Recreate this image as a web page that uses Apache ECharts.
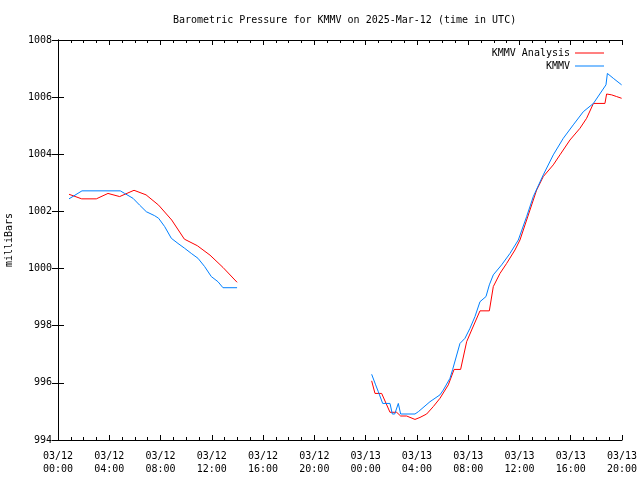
<!DOCTYPE html>
<html>
<head>
<meta charset="utf-8">
<script src="https://cdn.jsdelivr.net/npm/echarts@6/dist/echarts.min.js"></script>
<style>html,body{margin:0;padding:0;background:#fff}#c{width:640px;height:480px}</style>
</head>
<body>
<div id="c"></div>
<script>
var titleText = 'Barometric Pressure for KMMV on 2025-Mar-12 (time in UTC)';
var yAxisName = 'milliBars';
var seriesNames = ['KMMV Analysis', 'KMMV'];
var xTickDates = ['03/12','03/12','03/12','03/12','03/12','03/12','03/13','03/13','03/13','03/13','03/13','03/13'];
var xTickTimes = ['00:00','04:00','08:00','12:00','16:00','20:00','00:00','04:00','08:00','12:00','16:00','20:00'];

// hours since 03/12 00:00 UTC; null = gap in data
var analysisHours = [0.86,1.85,2.99,3.90,4.81,5.93,6.87,7.85,8.87,9.86,10.87,11.86,12.87,13.97,
  19,
  24.47,24.73,25.25,25.90,26.42,26.73,27.20,27.85,28.24,28.76,29.28,29.80,30.45,30.90,31.41,31.88,32.27,32.92,33.65,33.96,34.48,35.00,35.65,36.04,36.56,37.34,37.86,38.64,39.16,39.94,40.72,41.24,41.77,42.67,42.80,43.19,43.58,43.97];
var analysisValues = [1002.60,1002.44,1002.44,1002.63,1002.52,1002.74,1002.58,1002.22,1001.70,1001.03,1000.80,1000.47,1000.04,999.52,
  null,
  996.07,995.63,995.63,994.97,994.97,994.84,994.84,994.72,994.79,994.91,995.17,995.46,995.93,996.47,996.47,997.44,997.85,998.52,998.52,999.37,999.83,1000.18,1000.65,1001.00,1001.70,1002.75,1003.22,1003.63,1003.98,1004.50,1004.91,1005.26,1005.78,1005.78,1006.11,1006.08,1006.02,1005.96];

var kmmvHours = [0.86,1.87,4.86,5.20,5.85,6.37,6.89,7.54,7.85,8.32,8.84,9.36,9.88,10.40,10.92,11.44,11.96,12.48,12.87,13.97,
  19,
  24.47,24.78,24.86,24.99,25.33,25.90,26.08,26.27,26.55,26.73,27.85,28.11,29.02,29.80,30.06,30.58,30.79,31.36,31.75,32.14,32.53,32.92,33.39,33.65,33.96,34.61,35.26,35.91,36.56,37.08,37.86,38.64,39.42,40.20,40.98,41.77,42.75,42.86,43.32,43.97];
var kmmvValues = [1002.44,1002.72,1002.72,1002.63,1002.46,1002.22,1001.99,1001.85,1001.76,1001.47,1001.06,1000.88,1000.71,1000.53,1000.36,1000.07,999.72,999.54,999.33,999.33,
  null,
  996.30,995.93,995.87,995.69,995.28,995.28,994.91,994.91,995.28,994.91,994.91,994.99,995.34,995.58,995.75,996.16,996.47,997.38,997.56,997.91,998.32,998.84,999.02,999.43,999.78,1000.13,1000.53,1001.00,1001.82,1002.52,1003.28,1003.98,1004.56,1005.03,1005.49,1005.78,1006.43,1006.83,1006.66,1006.43];

function pairs(xs, ys) {
  return xs.map(function (x, i) { return [x, ys[i] === null ? '-' : ys[i]]; });
}

var FONT = 'DejaVu Sans Mono';
var chart = echarts.init(document.getElementById('c'), null, {renderer: 'canvas'});

var axisLineStyle = {show: true, lineStyle: {color: '#000', width: 1}};
function xAx(pos, labels) {
  return {
    type: 'value', position: pos, min: 0, max: 44, interval: 4,
    axisLine: axisLineStyle,
    axisTick: {show: true, inside: true, length: 5, lineStyle: {color: '#000'}},
    minorTick: {show: true, splitNumber: 4, length: 3, lineStyle: {color: '#000'}},
    splitLine: {show: false},
    axisLabel: labels ? {
      show: true, color: '#000', fontFamily: FONT, fontSize: 10, lineHeight: 13, margin: 10,
      hideOverlap: false, showMinLabel: true, showMaxLabel: true,
      formatter: function (v) { var i = Math.round(v / 4); return xTickDates[i] + '\n' + xTickTimes[i]; }
    } : {show: false}
  };
}
function yAx(pos, labels) {
  return {
    type: 'value', position: pos, min: 994, max: 1008, interval: 2,
    name: labels ? yAxisName : '', nameLocation: 'middle', nameGap: 44, nameRotate: 90,
    nameTextStyle: {color: '#000', fontFamily: FONT, fontSize: 10},
    axisLine: axisLineStyle,
    axisTick: {show: true, inside: true, length: 6, lineStyle: {color: '#000'}},
    splitLine: {show: false},
    axisLabel: labels ? {show: true, color: '#000', fontFamily: FONT, fontSize: 10, margin: 6,
      formatter: function (v) { return String(v); }} : {show: false}
  };
}

chart.setOption({
  animation: false,
  backgroundColor: '#fff',
  title: {
    text: titleText, left: 168, top: 10,
    textStyle: {color: '#000', fontFamily: FONT, fontSize: 10, fontWeight: 'normal'}
  },
  legend: [
    {data: [seriesNames[0]], right: 31, top: 43, icon: 'rect', itemWidth: 29, itemHeight: 1, align: 'right',
     textStyle: {color: '#000', fontFamily: FONT, fontSize: 10}, selectedMode: false},
    {data: [seriesNames[1]], right: 31, top: 56, icon: 'rect', itemWidth: 29, itemHeight: 1, align: 'right',
     textStyle: {color: '#000', fontFamily: FONT, fontSize: 10}, selectedMode: false}
  ],
  grid: {left: 58, right: 18, top: 40, bottom: 40, containLabel: false, outerBoundsMode: 'none'},
  xAxis: [xAx('bottom', true), xAx('top', false)],
  yAxis: [yAx('left', true), yAx('right', false)],
  series: [
    {name: seriesNames[0], type: 'line', xAxisIndex: 0, yAxisIndex: 0, data: pairs(analysisHours, analysisValues),
     showSymbol: false, connectNulls: false, color: '#ff0000', lineStyle: {width: 1, color: '#ff0000'}},
    {name: seriesNames[1], type: 'line', xAxisIndex: 0, yAxisIndex: 0, data: pairs(kmmvHours, kmmvValues),
     showSymbol: false, connectNulls: false, color: '#0080ff', lineStyle: {width: 1, color: '#0080ff'}}
  ]
});
</script>
</body>
</html>
